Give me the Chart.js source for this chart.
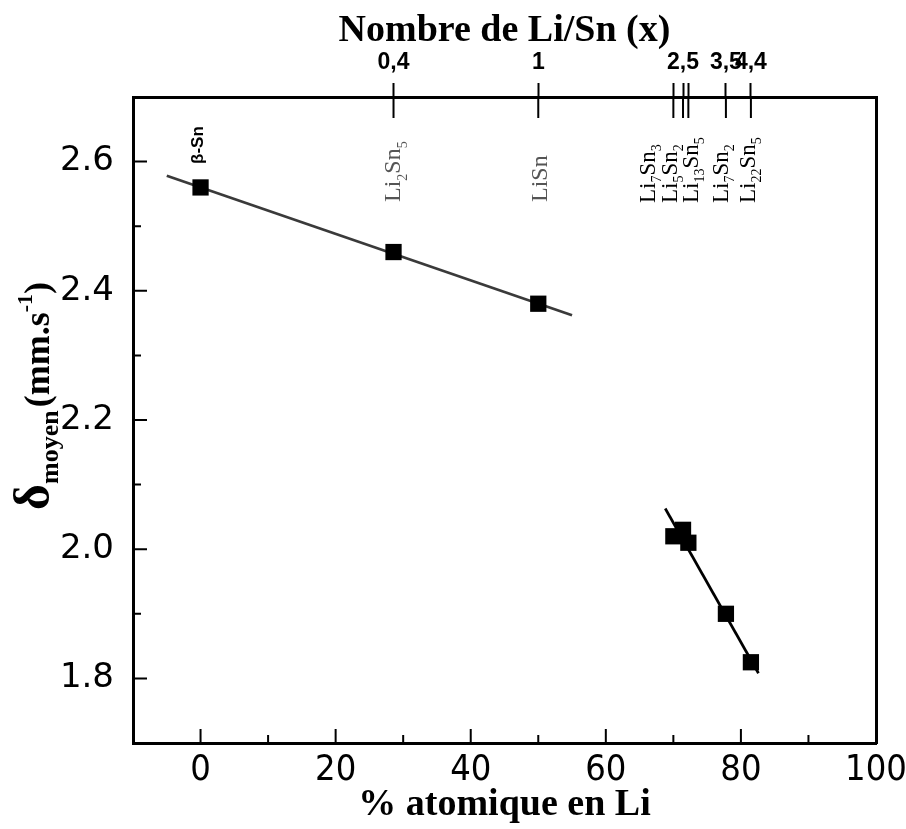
<!DOCTYPE html>
<html><head><meta charset="utf-8">
<script src="https://cdn.jsdelivr.net/npm/chart.js@4"></script>
<style>html,body{margin:0;padding:0;background:#fff}canvas{display:block}</style>
</head><body>
<canvas id="c" width="906" height="829"></canvas>
<script>
// ---- data ----
const phaseNames = ['β-Sn', 'Li_2Sn_5', 'LiSn', 'Li_7Sn_3', 'Li_5Sn_2', 'Li_13Sn_5', 'Li_7Sn_2', 'Li_22Sn_5'];
const liPercent  = [0, 28.57, 50, 70, 71.43, 72.22, 77.78, 81.48];
const deltaMean  = [2.56, 2.46, 2.38, 2.02, 2.03, 2.01, 1.90, 1.825];
const fit1X = [-5, 55];
const fit1Y = [2.578, 2.362];
const fit2X = [68.8, 82.6];
const fit2Y = [2.063, 1.808];
const topTickValues = [28.57, 50, 70, 71.43, 72.22, 77.78, 81.48];
const topTickLabels = ['0,4', '1', '', '2,5', '', '3,5', '4,4'];
const xTitle = '% atomique en Li';
const topTitle = 'Nombre de Li/Sn (x)';

// ---- styles for the phase labels (pixel nudges, fonts, colours) ----
const labelStyle = [
  {dx: 2.5, dy: 67, font: 'bold 17px "Liberation Sans", Arial, sans-serif', color: '#000'},
  {dx: 6.5, dy: 105, size: 24, color: '#555'},
  {dx: 9, dy: 105, size: 24, color: '#555'},
  {dx: -18.4, dy: 106, size: 23, color: '#000'},
  {dx: -6, dy: 106, size: 23, color: '#000'},
  {dx: 9.6, dy: 106, size: 23, color: '#000'},
  {dx: 2, dy: 106, size: 23, color: '#000'},
  {dx: 4, dy: 106, size: 23, color: '#000'}
];

const SERIF = '"Liberation Serif", "Times New Roman", serif';

function pts(xs, ys) { return xs.map((v, i) => ({x: v, y: ys[i]})); }

function drawRotatedParts(ctx, parts, x, y) {
  ctx.save();
  ctx.translate(x, y);
  ctx.rotate(-Math.PI / 2);
  ctx.textBaseline = 'alphabetic';
  ctx.textAlign = 'left';
  let cx = 0;
  parts.forEach(p => {
    ctx.font = p.font;
    ctx.fillText(p.text, cx, p.shift || 0);
    cx += ctx.measureText(p.text).width + (p.gap || 0);
  });
  ctx.restore();
  return cx;
}

function measureParts(ctx, parts) {
  let w = 0;
  ctx.save();
  parts.forEach(p => { ctx.font = p.font; w += ctx.measureText(p.text).width + (p.gap || 0); });
  ctx.restore();
  return w;
}

const phaseLabelPlugin = {
  id: 'phaseLabels',
  afterDatasetsDraw(chart) {
    const {ctx, chartArea: a, scales: {x}} = chart;
    phaseNames.forEach((name, i) => {
      const st = labelStyle[i];
      const px = x.getPixelForValue(liPercent[i]) + st.dx;
      const py = a.top + st.dy;
      let parts;
      if (st.font) {
        parts = [{text: name, font: st.font}];
      } else {
        const toks = name.split(/_(\d+)/);
        parts = [];
        toks.forEach((t, k) => {
          if (!t) return;
          if (k % 2 === 1) parts.push({text: t, font: `${Math.round(st.size * 0.6)}px ${SERIF}`, shift: st.size * 0.28});
          else parts.push({text: t, font: `${st.size}px ${SERIF}`});
        });
      }
      ctx.fillStyle = st.color;
      drawRotatedParts(ctx, parts, px, py);
    });
  }
};

const yTitlePlugin = {
  id: 'yTitle',
  afterDraw(chart) {
    const {ctx} = chart;
    const parts = [
      {text: 'δ', font: `bold 50px ${SERIF}`},
      {text: 'moyen', font: `bold 26px ${SERIF}`, shift: 9, gap: 3},
      {text: '(mm.s', font: `bold 36px ${SERIF}`},
      {text: '-1', font: `bold 22px ${SERIF}`, shift: -17},
      {text: ')', font: `bold 36px ${SERIF}`}
    ];
    const w = measureParts(ctx, parts);
    ctx.fillStyle = '#000';
    drawRotatedParts(ctx, parts, 49, 396 + w / 2);
  }
};

const inTickPlugin = {
  id: 'inTicks',
  afterDraw(chart) {
    const {ctx, chartArea: a, scales: {x, y, x2}} = chart;
    ctx.save();
    ctx.strokeStyle = '#000';
    ctx.lineWidth = 2;
    ctx.beginPath();
    x.ticks.forEach(t => {
      if (t.value <= x.min + 1e-6 || t.value >= x.max - 1e-6) return;
      const px = x.getPixelForValue(t.value);
      const len = Math.round(t.value) % 20 === 0 ? 14 : 8;
      ctx.moveTo(px, a.bottom); ctx.lineTo(px, a.bottom - len);
    });
    y.ticks.forEach(t => {
      if (t.value <= y.min + 1e-6 || t.value >= y.max - 1e-6) return;
      const py = y.getPixelForValue(t.value);
      const len = Math.round(t.value * 10) % 2 === 0 ? 14 : 8;
      ctx.moveTo(a.left, py); ctx.lineTo(a.left + len, py);
    });
    x2.ticks.forEach(t => {
      const px = x2.getPixelForValue(t.value);
      ctx.moveTo(px, a.top); ctx.lineTo(px, a.top + 21);
    });
    ctx.stroke();
    ctx.restore();
  }
};

function noSidePad(s) { s.paddingLeft = 0; s.paddingRight = 0; }

new Chart(document.getElementById('c'), {
  type: 'scatter',
  data: {
    datasets: [
      {
        label: 'fit1', data: pts(fit1X, fit1Y), showLine: true,
        borderColor: '#3a3a3a', borderWidth: 2.7, pointRadius: 0, fill: false, order: 2
      },
      {
        label: 'fit2', data: pts(fit2X, fit2Y), showLine: true,
        borderColor: '#000', borderWidth: 2.7, pointRadius: 0, fill: false, order: 2
      },
      {
        label: 'delta', data: pts(liPercent, deltaMean), showLine: false,
        pointStyle: 'rect', pointRadius: 11.5, backgroundColor: '#000', borderColor: '#000',
        borderWidth: 0, order: 1
      }
    ]
  },
  options: {
    responsive: false,
    animation: false,
    events: [],
    layout: {padding: {left: 0, right: 30, top: 0, bottom: 0}},
    plugins: {legend: {display: false}, tooltip: {enabled: false}},
    scales: {
      x: {
        type: 'linear', position: 'bottom', min: -10, max: 100,
        afterFit(s) { s.height = 86; noSidePad(s); },
        afterBuildTicks(s) {
          const t = [];
          for (let v = -10; v <= 100; v += 10) t.push({value: v});
          s.ticks = t;
        },
        ticks: {
          autoSkip: false, maxRotation: 0, padding: 10, color: '#000',
          font: {family: '"Liberation Sans Narrow", "DejaVu Sans Condensed", "Liberation Sans", sans-serif', size: 36, lineHeight: 1},
          callback: v => (Math.round(v) % 20 === 0 && v >= 0) ? String(Math.round(v)) : ''
        },
        grid: {drawOnChartArea: false, drawTicks: false},
        border: {display: true, color: '#000', width: 3},
        title: {display: true, text: xTitle, color: '#000',
          font: {family: SERIF, size: 38, weight: 'bold', lineHeight: 1}, padding: {top: 0, bottom: 5}}
      },
      x2: {
        type: 'linear', position: 'top', min: -10, max: 100,
        afterFit(s) { s.height = 97; noSidePad(s); },
        afterBuildTicks(s) { s.ticks = topTickValues.map(v => ({value: v})); },
        ticks: {
          autoSkip: false, maxRotation: 0, padding: 9, color: '#000',
          font: {family: '"Liberation Sans", Arial, sans-serif', size: 23, weight: 'bold', lineHeight: 1},
          callback: (v, i) => topTickLabels[i]
        },
        grid: {drawOnChartArea: false, drawTicks: true, tickLength: 14, tickColor: '#000', tickWidth: 2},
        border: {display: true, color: '#000', width: 3},
        title: {display: true, text: topTitle, color: '#000',
          font: {family: SERIF, size: 38, weight: 'bold', lineHeight: 1}, padding: {top: 12, bottom: 0}}
      },
      y: {
        type: 'linear', position: 'left', min: 1.7, max: 2.7,
        afterFit(s) { s.width = 133; },
        afterBuildTicks(s) {
          const t = [];
          for (let k = 17; k <= 27; k++) t.push({value: k / 10});
          s.ticks = t;
        },
        ticks: {
          autoSkip: false, padding: 19, color: '#000',
          font: {family: '"DejaVu Sans", "Liberation Sans", sans-serif', size: 34, lineHeight: 1},
          callback: v => {
            const k = Math.round(v * 10);
            return (k % 2 === 0 && k > 17 && k < 27) ? (k / 10).toFixed(1) : '';
          }
        },
        grid: {drawOnChartArea: false, drawTicks: false},
        border: {display: true, color: '#000', width: 3}
      },
      y2: {
        type: 'linear', position: 'right', min: 1.7, max: 2.7,
        afterFit(s) { s.width = 0; },
        ticks: {display: false},
        grid: {drawOnChartArea: false, drawTicks: false},
        border: {display: true, color: '#000', width: 3}
      }
    }
  },
  plugins: [inTickPlugin, phaseLabelPlugin, yTitlePlugin]
});
</script>
</body></html>
